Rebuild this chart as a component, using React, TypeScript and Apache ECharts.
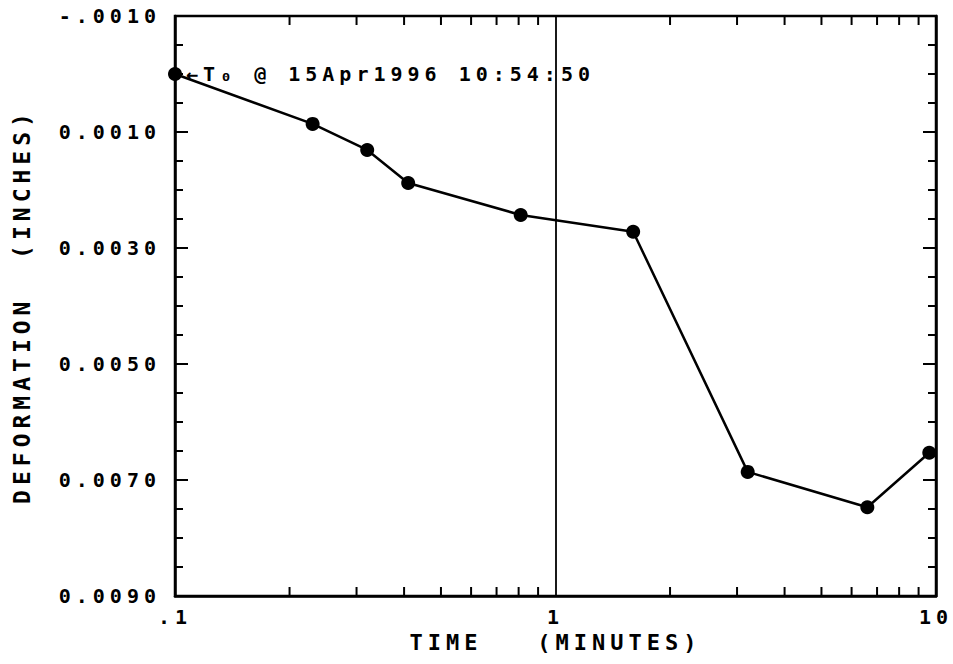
import React, { useEffect, useRef } from "react";
import * as echarts from "echarts";

// ---- data ----
const timeMinutes = [0.1, 0.23, 0.32, 0.41, 0.81, 1.6, 3.2, 6.6, 9.6];
const deformationInches = [0.0, 0.00086, 0.00131, 0.00188, 0.00243, 0.00272, 0.00686, 0.00747, 0.00653];
const yTickLabels = ["-.0010", "0.0010", "0.0030", "0.0050", "0.0070", "0.0090"];
const xTickLabels = [".1", "1", "10"];
const xMinorTicks = [0.2, 0.3, 0.4, 0.5, 0.6, 0.7, 0.8, 0.9, 2, 3, 4, 5, 6, 7, 8, 9];
const yRange = [-0.001, 0.009];
const xRange = [0.1, 10];
const annotationText = "←T₀ @ 15Apr1996 10:54:50";
const xAxisName = "TIME   (MINUTES)";
const yAxisName = "DEFORMATION  (INCHES)";

const FONT = "'DejaVu Sans Mono', 'Liberation Mono', monospace";
const INK = "#000";

export default function App() {
  const ref = useRef<HTMLDivElement>(null);

  useEffect(() => {
    document.body.style.margin = "0";
    if (!ref.current) return;
    const chart = echarts.init(ref.current, undefined, { renderer: "svg" });

    const yAxisBase = (position: "left" | "right", showLabels: boolean) => ({
      type: "value",
      position,
      inverse: true,
      min: yRange[0],
      max: yRange[1],
      interval: 0.002,
      name: showLabels ? yAxisName : "",
      nameLocation: "middle",
      nameRotate: 90,
      nameGap: 142,
      nameTextStyle: { color: INK, fontFamily: FONT, fontWeight: "bold", fontSize: 23 },
      axisLine: { show: true, onZero: false, lineStyle: { color: INK, width: 2.5 } },
      axisTick: { show: true, inside: true, length: 13, lineStyle: { color: INK, width: 2 } },
      minorTick: { show: true, splitNumber: 4, length: 8, lineStyle: { color: INK, width: 2 } },
      splitLine: { show: false },
      axisLabel: {
        show: showLabels,
        margin: 14,
        color: INK,
        fontFamily: FONT,
        fontWeight: "bold",
        fontSize: 20,
        formatter: (_v: number, i: number) => yTickLabels[i] ?? "",
      },
    });

    chart.setOption({
      animation: false,
      backgroundColor: "#fff",
      grid: {
        left: 175,
        right: 17,
        top: 16,
        bottom: 68,
        show: true,
        borderColor: INK,
        borderWidth: 2.5,
        backgroundColor: "transparent",
      },
      xAxis: [
        {
          type: "log",
          logBase: 10,
          min: xRange[0],
          max: xRange[1],
          name: xAxisName,
          nameLocation: "middle",
          nameGap: 34,
          nameTextStyle: { color: INK, fontFamily: FONT, fontWeight: "bold", fontSize: 22 },
          axisLine: { show: true, onZero: false, lineStyle: { color: INK, width: 2.5 } },
          axisTick: { show: false },
          splitLine: { show: true, lineStyle: { color: INK, width: 1.8 } },
          axisLabel: {
            show: true,
            margin: 11,
            color: INK,
            fontFamily: FONT,
            fontWeight: "bold",
            fontSize: 20,
            showMinLabel: true,
            showMaxLabel: true,
            formatter: (_v: number, i: number) => xTickLabels[i] ?? "",
          },
        },
      ],
      yAxis: [yAxisBase("left", true), yAxisBase("right", false)],
      series: [
        {
          type: "custom",
          silent: true,
          xAxisIndex: 0,
          yAxisIndex: 0,
          data: xMinorTicks.map((v) => [v, yRange[0]]),
          renderItem: (_params: any, api: any) => {
            const x = api.value(0);
            const bottom = api.coord([x, yRange[1]]);
            const top = api.coord([x, yRange[0]]);
            return {
              type: "group",
              children: [
                {
                  type: "line",
                  shape: { x1: bottom[0], y1: bottom[1], x2: bottom[0], y2: bottom[1] - 9 },
                  style: { stroke: INK, lineWidth: 2 },
                },
                {
                  type: "line",
                  shape: { x1: top[0], y1: top[1], x2: top[0], y2: top[1] + 9 },
                  style: { stroke: INK, lineWidth: 2 },
                },
              ],
            };
          },
        },
        {
          type: "line",
          xAxisIndex: 0,
          yAxisIndex: 0,
          clip: false,
          symbol: "circle",
          symbolSize: 14,
          lineStyle: { color: INK, width: 2.5 },
          itemStyle: { color: INK },
          z: 5,
          data: timeMinutes.map((t, i) =>
            i === 0
              ? {
                  value: [t, deformationInches[i]],
                  label: {
                    show: true,
                    position: "right",
                    distance: 4,
                    formatter: annotationText,
                    color: INK,
                    fontFamily: FONT,
                    fontWeight: "bold",
                    fontSize: 20,
                  },
                }
              : [t, deformationInches[i]]
          ),
        },
      ],
    });

    return () => chart.dispose();
  }, []);

  return (
    <>
      <style>{`.plotter-chart text { letter-spacing: 5px; }`}</style>
      <div ref={ref} className="plotter-chart" style={{ width: 953, height: 664 }} />
    </>
  );
}
